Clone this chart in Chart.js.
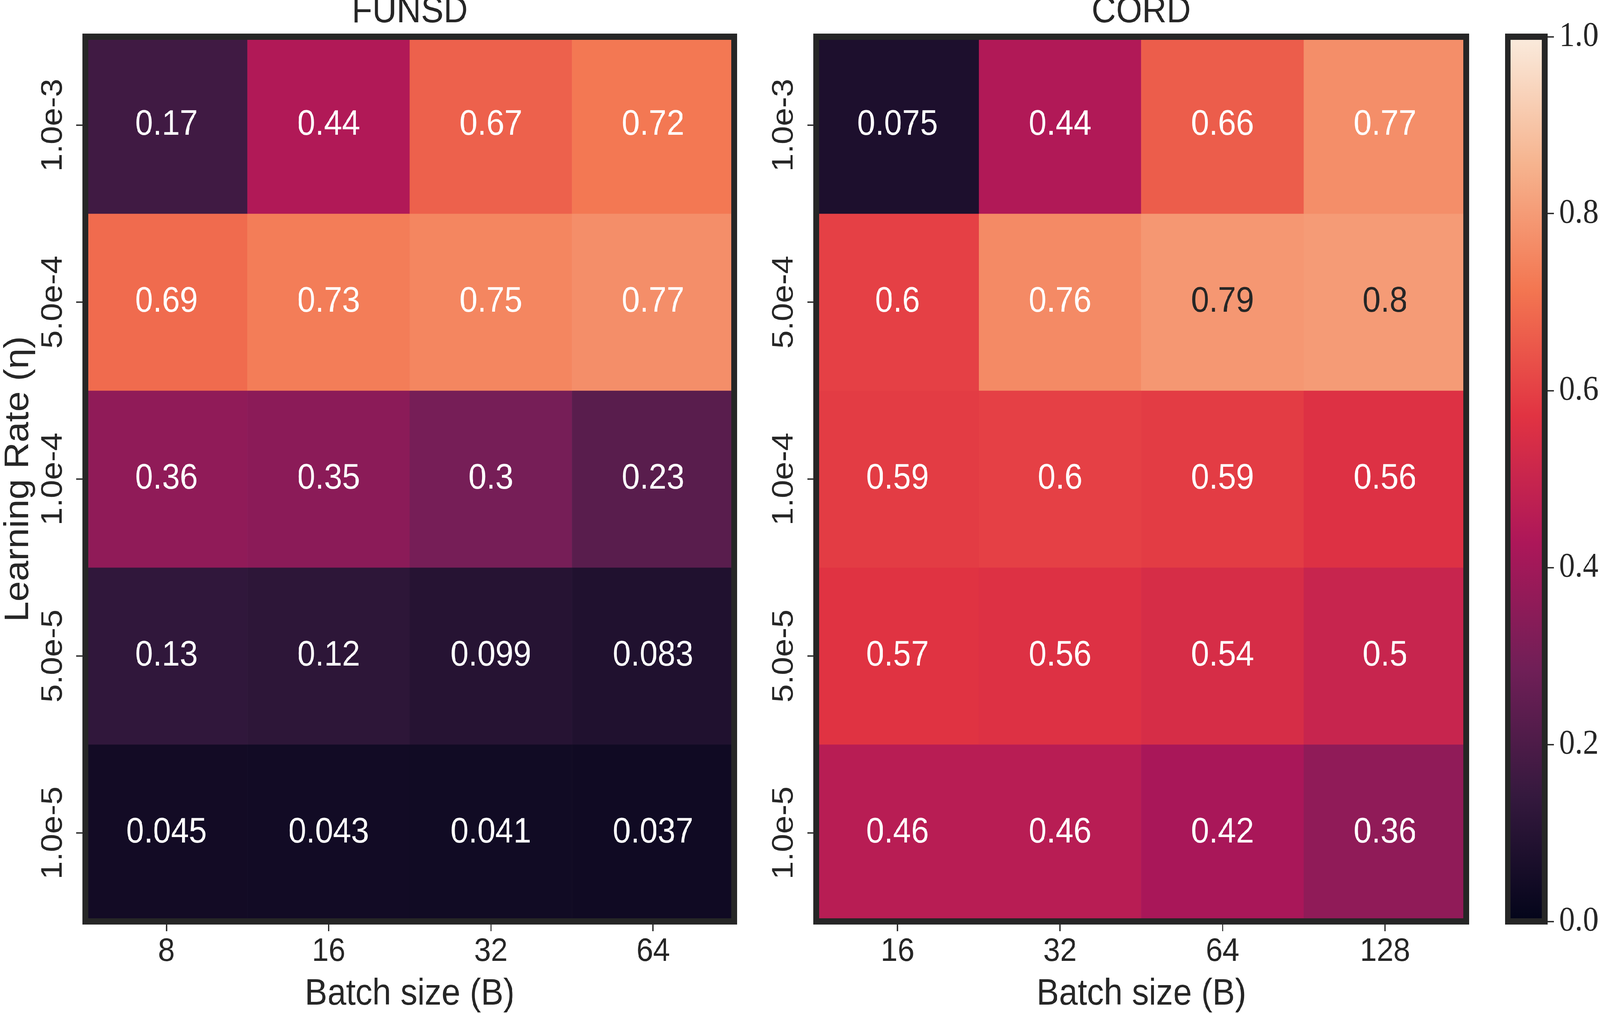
<!DOCTYPE html>
<html><head><meta charset="utf-8">
<script src="https://cdn.jsdelivr.net/npm/chart.js@4/dist/chart.umd.min.js"></script>
<style>
html,body{margin:0;padding:0;background:#fff;width:100%;height:100%;overflow:hidden;}
#stage{position:absolute;left:0;top:0;width:4463px;height:2596px;transform-origin:0 0;background:#fff;}
#stage canvas{position:absolute;top:0;}
</style></head><body>
<div id="stage">
<canvas id="funsd" width="2200" height="2596" style="left:0px"></canvas>
<canvas id="cord" width="2160" height="2596" style="left:2040px"></canvas>
<canvas id="cbar" width="363" height="2596" style="left:4100px"></canvas>
</div>
<script>
// ---- data ----
const learningRates = ['1.0e-3', '5.0e-4', '1.0e-4', '5.0e-5', '1.0e-5'];
const funsdBatchSizes = ['8', '16', '32', '64'];
const cordBatchSizes = ['16', '32', '64', '128'];

const funsdLr1e3 = [0.17, 0.44, 0.67, 0.72];
const funsdLr5e4 = [0.69, 0.73, 0.75, 0.77];
const funsdLr1e4 = [0.36, 0.35, 0.30, 0.23];
const funsdLr5e5 = [0.13, 0.12, 0.099, 0.083];
const funsdLr1e5 = [0.045, 0.043, 0.041, 0.037];

const cordLr1e3 = [0.075, 0.44, 0.66, 0.77];
const cordLr5e4 = [0.60, 0.76, 0.79, 0.80];
const cordLr1e4 = [0.59, 0.60, 0.59, 0.56];
const cordLr5e5 = [0.57, 0.56, 0.54, 0.50];
const cordLr1e5 = [0.46, 0.46, 0.42, 0.36];

const colorbarTicks = [0, 0.2, 0.4, 0.6, 0.8, 1.0];

// fit the 4463x2596 design to the actual viewport
(function fit() {
  const st = document.getElementById('stage');
  const sx = window.innerWidth / 4463, sy = window.innerHeight / 2596;
  st.style.transform = `scale(${sx}, ${sy})`;
})();

// ---- styling ----
const TEXT = '#262626';
const SANS = "'Liberation Sans', Arial, sans-serif";
const SERIF = "'Liberation Serif', 'Times New Roman', serif";
Chart.defaults.font.family = SANS;
Chart.defaults.color = TEXT;

// rocket colormap anchors
const rocketStops = [
  [0.0, [3, 5, 26]],
  [0.1429, [53, 25, 62]],
  [0.2857, [112, 31, 87]],
  [0.4286, [173, 23, 89]],
  [0.5714, [225, 51, 66]],
  [0.7143, [243, 118, 81]],
  [0.8571, [246, 180, 143]],
  [1.0, [250, 235, 221]]
];
function rocketRGB(v) {
  v = Math.max(0, Math.min(1, v));
  for (let i = 1; i < rocketStops.length; i++) {
    const [t1, c1] = rocketStops[i];
    const [t0, c0] = rocketStops[i - 1];
    if (v <= t1) {
      const f = (v - t0) / (t1 - t0);
      return c0.map((c, k) => Math.round(c + (c1[k] - c) * f));
    }
  }
  return rocketStops[rocketStops.length - 1][1];
}
function rocket(v) { const c = rocketRGB(v); return `rgb(${c[0]},${c[1]},${c[2]})`; }
function luminance(rgb) {
  const l = rgb.map(c => { c /= 255; return c <= 0.03928 ? c / 12.92 : Math.pow((c + 0.055) / 1.055, 2.4); });
  return 0.2126 * l[0] + 0.7152 * l[1] + 0.0722 * l[2];
}
function fmt(v) { return String(Number(v.toPrecision(2))); }

const annotatePlugin = {
  id: 'annotate',
  afterDatasetsDraw(chart) {
    const ctx = chart.ctx;
    ctx.save();
    ctx.font = `90px ${SANS}`;
    ctx.textAlign = 'center';
    ctx.textBaseline = 'middle';
    chart.data.datasets.forEach((ds, di) => {
      const meta = chart.getDatasetMeta(di);
      meta.data.forEach((el, j) => {
        const v = ds.values[j];
        ctx.fillStyle = luminance(rocketRGB(v)) > 0.408 ? TEXT : '#ffffff';
        ctx.fillText(fmt(v), el.x, (el.y + el.base) / 2);
      });
    });
    ctx.restore();
  }
};
const framePlugin = {
  id: 'frame',
  afterDatasetsDraw(chart) {
    const a = chart.chartArea, ctx = chart.ctx;
    ctx.save();
    ctx.strokeStyle = TEXT;
    ctx.lineWidth = 16;
    ctx.strokeRect(a.left, a.top, a.right - a.left, a.bottom - a.top);
    ctx.restore();
  }
};

function heatmap(id, title, batchSizes, rows, o) {
  const datasets = rows.map((vals, r) => ({
    label: learningRates[r],
    data: vals.map(() => [r, r + 1]),
    values: vals,
    backgroundColor: vals.map(rocket),
    borderWidth: 0,
    barPercentage: 1,
    categoryPercentage: 1,
    grouped: false
  }));
  return new Chart(document.getElementById(id), {
    type: 'bar',
    data: { labels: batchSizes, datasets },
    options: {
      responsive: false, animation: false, devicePixelRatio: 1,
      layout: { padding: { left: 0, right: o.padRight, top: 0, bottom: 0 } },
      plugins: {
        legend: { display: false }, tooltip: { enabled: false },
        title: { display: true, fullSize: false, text: title, color: TEXT,
          font: { size: 94, weight: 'normal', lineHeight: 1 }, padding: { top: -16, bottom: 16 } }
      },
      scales: {
        x: {
          type: 'category', position: 'bottom',
          afterFit: s => { s.height = 237; },
          grid: { display: true, offset: false, drawOnChartArea: false, drawTicks: true, tickLength: 25, tickColor: TEXT, tickWidth: 3.5 },
          border: { display: false },
          ticks: { color: TEXT, font: { size: 84 }, padding: 2, maxRotation: 0, minRotation: 0 },
          title: { display: true, text: 'Batch size (B)', color: TEXT, font: { size: 94, lineHeight: 1.2 }, padding: { top: 0, bottom: -6 } }
        },
        y: {
          type: 'linear', min: 0, max: 5, reverse: true,
          afterFit: s => { s.width = o.yWidth; },
          afterBuildTicks: s => { s.ticks = learningRates.map((_, i) => ({ value: i + 0.5 })); },
          grid: { display: true, drawOnChartArea: false, drawTicks: true, tickLength: 25, tickColor: TEXT, tickWidth: 3.5 },
          border: { display: false },
          ticks: { color: TEXT, font: { size: 84 }, minRotation: 90, maxRotation: 90, crossAlign: 'center', padding: -55,
            callback: (v) => learningRates[Math.floor(v)] },
          title: { display: o.yTitle, text: 'Learning Rate (η)', color: TEXT, font: { size: 94, lineHeight: 1.2 }, padding: { top: -4, bottom: 0 } }
        }
      }
    },
    plugins: [annotatePlugin, framePlugin]
  });
}

heatmap('funsd', 'FUNSD', funsdBatchSizes, [funsdLr1e3, funsdLr5e4, funsdLr1e4, funsdLr5e5, funsdLr1e5],
  { padRight: 152, yWidth: 238, yTitle: true });
heatmap('cord', 'CORD', cordBatchSizes, [cordLr1e3, cordLr5e4, cordLr1e4, cordLr5e5, cordLr1e5],
  { padRight: 110, yWidth: 237, yTitle: false });

// colorbar
new Chart(document.getElementById('cbar'), {
  type: 'bar',
  data: { labels: ['colour scale'], datasets: [{
    data: [[0, 1]],
    backgroundColor: (c) => {
      const a = c.chart.chartArea;
      if (!a) return rocket(0.5);
      const g = c.chart.ctx.createLinearGradient(0, a.bottom, 0, a.top);
      rocketStops.forEach(([t, col]) => g.addColorStop(t, `rgb(${col[0]},${col[1]},${col[2]})`));
      return g;
    },
    borderWidth: 0, barPercentage: 1, categoryPercentage: 1
  }]},
  options: {
    responsive: false, animation: false, devicePixelRatio: 1,
    layout: { padding: { left: 106, right: 0, top: 94, bottom: 237 } },
    plugins: { legend: { display: false }, tooltip: { enabled: false } },
    scales: {
      x: { display: false },
      y: {
        position: 'right', min: 0, max: 1,
        afterFit: s => { s.width = 154; },
        afterBuildTicks: s => { s.ticks = colorbarTicks.map(v => ({ value: v })); },
        grid: { display: true, drawOnChartArea: false, drawTicks: true, tickLength: 25, tickColor: TEXT, tickWidth: 3.5 },
        border: { display: false },
        ticks: { color: TEXT, font: { family: SERIF, size: 88 }, padding: 15, callback: v => v.toFixed(1) }
      }
    }
  },
  plugins: [framePlugin]
});
</script>
</body></html>
